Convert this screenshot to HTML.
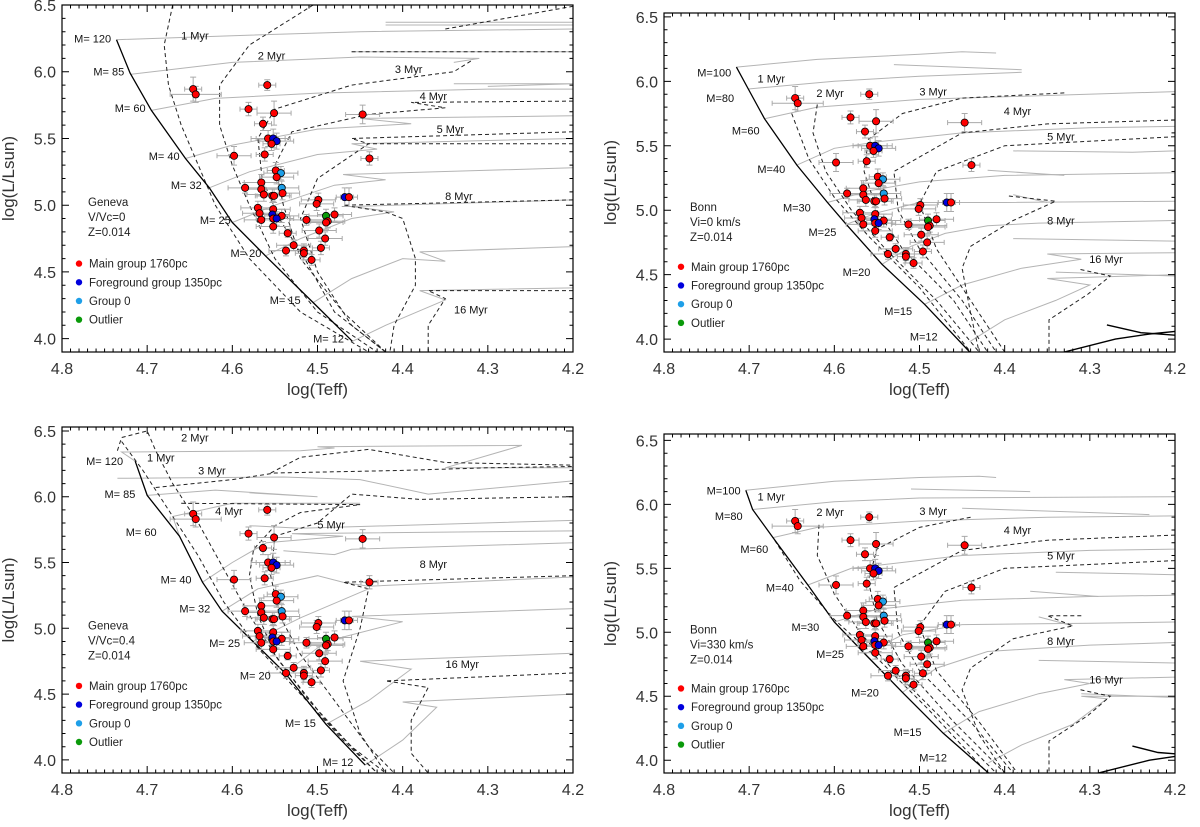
<!DOCTYPE html>
<html><head><meta charset="utf-8"><title>HR diagrams</title>
<style>
html,body{margin:0;padding:0;background:#fff;}
svg{display:block;font-family:"Liberation Sans",sans-serif;}
</style></head>
<body>
<svg id="fig" width="1200" height="827" viewBox="0 0 1200 827" xmlns="http://www.w3.org/2000/svg"></svg>
<script>
// ---- star data (same in all four panels) ----
const teff = [4.646,4.643,4.559,4.581,4.551,4.447,4.564,4.558,4.552,4.548,4.554,4.598,4.562,4.439,4.549,4.543,4.548,4.566,4.585,4.542,4.566,4.541,4.563,4.553,4.551,4.468,4.463,4.499,4.501,4.570,4.552,4.568,4.553,4.490,4.480,4.542,4.566,4.552,4.548,4.513,4.488,4.490,4.552,4.498,4.535,4.491,4.528,4.496,4.537,4.516,4.516,4.507];
const lum  = [5.87,5.83,5.90,5.72,5.69,5.68,5.61,5.50,5.50,5.48,5.46,5.37,5.38,5.35,5.26,5.24,5.21,5.17,5.13,5.13,5.12,5.09,5.08,5.07,5.07,5.06,5.06,5.04,5.01,4.98,4.97,4.94,4.93,4.92,4.93,4.92,4.89,4.90,4.90,4.89,4.88,4.87,4.84,4.81,4.79,4.75,4.70,4.68,4.66,4.66,4.64,4.59];
const group = ['m','m','m','m','m','m','m','m','f','f','m','m','m','m','m','g','m','m','m','g','m','m','m','m','m','f','m','m','m','m','m','m','f','o','m','m','m','m','f','m','m','m','m','m','m','m','m','m','m','m','m','m'];
const xerr = [0.01,0.03,0.01,0.01,0.02,0.02,0.01,0.02,0.02,0.02,0.01,0.02,0.01,0.01,0.01,0.02,0.02,0.02,0.02,0.02,0.02,0.02,0.02,0.02,0.02,0.01,0.01,0.02,0.02,0.02,0.02,0.02,0.02,0.02,0.02,0.02,0.02,0.02,0.02,0.02,0.02,0.02,0.02,0.02,0.01,0.02,0.02,0.01,0.02,0.02,0.01,0.01];
const yerr = [0.09,0.06,0.04,0.05,0.09,0.07,0.05,0.06,0.07,0.06,0.05,0.07,0.05,0.05,0.06,0.05,0.05,0.06,0.04,0.05,0.05,0.05,0.05,0.05,0.05,0.07,0.07,0.05,0.05,0.05,0.06,0.05,0.05,0.05,0.05,0.05,0.05,0.05,0.05,0.04,0.05,0.05,0.05,0.05,0.03,0.05,0.04,0.05,0.04,0.05,0.05,0.04];
const groupColors = {m:'#ff0000', f:'#0000dd', g:'#1e9fe8', o:'#0a9a0a'};
const legendLabels = ['Main group 1760pc','Foreground group 1350pc','Group 0','Outlier'];
const legendKeys = ['m','f','g','o'];
const xTicks = [4.8,4.7,4.6,4.5,4.4,4.3,4.2];
const yTicks = [4.0,4.5,5.0,5.5,6.0,6.5];

// ---- model curves ----
const panels = [
 {name:'geneva-norot', x0:62,x1:573,y0:5,y1:352, lmin:3.9,lmax:6.5, info:['Geneva','V/Vc=0','Z=0.014'],
  zams:[[4.736,6.24],[4.72,5.99],[4.695,5.71],[4.655,5.35],[4.627,5.13],[4.6,4.87],[4.561,4.62],[4.505,4.27],[4.459,3.98]],
  tracks:[
   [[4.736,6.24],[4.6,6.27],[4.45,6.3],[4.2,6.32]],[[4.42,6.37],[4.2,6.37],[4.2,6.35],[4.42,6.35]],
   [[4.72,5.98],[4.6,6.07],[4.45,6.11],[4.31,6.1],[4.34,6.07]],[[4.46,6.15],[4.2,6.15]],
   [[4.695,5.71],[4.62,5.8],[4.5,5.84],[4.3,5.87],[4.2,5.87]],[[4.34,5.91],[4.2,5.91],[4.3,5.89]],
   [[4.655,5.35],[4.6,5.45],[4.5,5.57],[4.39,5.61],[4.45,5.65],[4.2,5.67]],
   [[4.627,5.13],[4.58,5.25],[4.5,5.38],[4.43,5.42],[4.46,5.46],[4.2,5.5]],
   [[4.6,4.87],[4.55,5.0],[4.48,5.15],[4.42,5.19],[4.47,5.23],[4.2,5.28]],
   [[4.561,4.62],[4.52,4.75],[4.46,4.9],[4.41,4.95],[4.46,4.99],[4.2,5.04]],
   [[4.505,4.27],[4.46,4.45],[4.40,4.6],[4.35,4.58],[4.38,4.65],[4.2,4.69]],
   [[4.459,3.98],[4.42,4.1],[4.35,4.29],[4.38,4.36],[4.2,4.38]]],
  isos:[
   [[4.67,6.5],[4.68,6.2],[4.675,5.9],[4.66,5.6],[4.64,5.3],[4.62,5.0],[4.58,4.6],[4.52,4.2],[4.44,3.9]],
   [[4.505,6.5],[4.58,6.2],[4.615,5.9],[4.615,5.6],[4.60,5.3],[4.58,5.0],[4.55,4.6],[4.50,4.2],[4.43,3.9]],
   [[4.46,6.15],[4.2,6.15]],
   [[4.32,6.08],[4.34,6.0],[4.46,5.9],[4.55,5.72],[4.57,5.5],[4.565,5.2],[4.545,4.9],[4.515,4.6],[4.48,4.2],[4.42,3.9]],
   [[4.2,5.78],[4.39,5.77],[4.35,5.73],[4.44,5.68],[4.53,5.55],[4.55,5.3],[4.54,5.0],[4.52,4.6],[4.47,4.2],[4.42,3.9]],
   [[4.2,5.55],[4.46,5.5],[4.44,5.46],[4.5,5.2],[4.52,4.9],[4.50,4.5],[4.46,4.1],[4.42,3.9]],
   [[4.2,5.46],[4.44,5.46]],
   [[4.2,5.04],[4.47,5.0],[4.42,4.95],[4.40,4.9],[4.385,4.6],[4.385,4.4],[4.41,4.1],[4.415,3.9]],
   [[4.2,4.36],[4.37,4.36],[4.35,4.3],[4.37,4.1],[4.37,3.9]],
   [[4.35,6.32],[4.2,6.49]]],
  black:[],
  mlabels:[['M= 120',4.764,6.25],['M= 85',4.745,6.0],['M= 60',4.72,5.73],['M= 40',4.68,5.37],['M= 32',4.654,5.15],['M= 25',4.62,4.89],['M= 20',4.584,4.64],['M= 15',4.538,4.29],['M= 12',4.487,4.0]],
  alabels:[['1 Myr',4.644,6.27],['2 Myr',4.554,6.12],['3 Myr',4.393,6.02],['4 Myr',4.364,5.82],['5 Myr',4.344,5.57],['8 Myr',4.334,5.07],['16 Myr',4.32,4.22]]},
 {name:'bonn-norot', x0:664,x1:1175,y0:13,y1:352, lmin:3.9,lmax:6.53, info:['Bonn','Vi=0 km/s','Z=0.014'],
  zams:[[4.715,6.11],[4.701,5.94],[4.682,5.71],[4.644,5.35],[4.608,5.06],[4.586,4.89],[4.544,4.58],[4.494,4.27],[4.441,3.9]],
  tracks:[
   [[4.715,6.11],[4.62,6.17],[4.5,6.21],[4.45,6.23],[4.41,6.22]],[[4.53,6.13],[4.38,6.09]],
   [[4.701,5.94],[4.6,6.0],[4.5,6.04],[4.38,6.07]],
   [[4.682,5.71],[4.62,5.8],[4.5,5.86],[4.35,5.89],[4.2,5.92]],
   [[4.644,5.35],[4.6,5.48],[4.55,5.53],[4.45,5.6],[4.3,5.64],[4.2,5.65]],
   [[4.39,5.46],[4.25,5.45],[4.2,5.46]],
   [[4.608,5.06],[4.56,5.15],[4.5,5.22],[4.4,5.27],[4.2,5.29]],[[4.42,5.31],[4.33,5.27]],
   [[4.586,4.89],[4.55,4.98],[4.5,5.06],[4.40,5.06],[4.2,5.07]],[[4.39,5.12],[4.35,5.06]],
   [[4.544,4.58],[4.51,4.72],[4.47,4.82],[4.42,4.88],[4.36,4.9],[4.2,4.92]],[[4.39,4.78],[4.2,4.76]],
   [[4.494,4.27],[4.45,4.42],[4.38,4.55],[4.31,4.62],[4.35,4.66],[4.2,4.67]],[[4.34,4.52],[4.2,4.49]],
   [[4.441,3.98],[4.40,4.15],[4.34,4.3],[4.3,4.42],[4.35,4.47],[4.2,4.5]]],
  isos:[
   [[4.65,5.75],[4.63,5.4],[4.6,5.1],[4.56,4.8],[4.5,4.4],[4.44,3.9]],
   [[4.62,5.82],[4.625,5.6],[4.61,5.3],[4.58,5.0],[4.54,4.7],[4.48,4.3],[4.43,3.9]],
   [[4.33,5.91],[4.45,5.87],[4.52,5.75],[4.56,5.55],[4.565,5.3],[4.55,5.0],[4.52,4.7],[4.46,4.3],[4.42,3.9]],
   [[4.2,5.7],[4.35,5.67],[4.45,5.6],[4.53,5.3],[4.525,5.0],[4.50,4.7],[4.45,4.3],[4.41,3.9]],
   [[4.2,5.57],[4.4,5.5],[4.48,5.3],[4.50,5.05],[4.48,4.7],[4.44,4.3],[4.40,3.9]],
   [[4.395,5.11],[4.34,5.07],[4.39,4.92],[4.44,4.72],[4.45,4.55],[4.44,4.2],[4.43,3.9]],
   [[4.311,4.54],[4.276,4.49],[4.302,4.35],[4.348,4.15],[4.348,3.9]]],
  black:[[[4.33,3.9],[4.27,4.0],[4.23,4.04],[4.2,4.06]],[[4.2,4.03],[4.24,4.05],[4.28,4.11]]],
  mlabels:[['M=100',4.741,6.07],['M=80',4.734,5.87],['M=60',4.704,5.62],['M=40',4.674,5.32],['M=30',4.644,5.02],['M=25',4.614,4.83],['M=20',4.574,4.52],['M=15',4.525,4.22],['M=12',4.495,4.02]],
  alabels:[['1 Myr',4.674,6.02],['2 Myr',4.605,5.91],['3 Myr',4.484,5.92],['4 Myr',4.385,5.77],['5 Myr',4.334,5.57],['8 Myr',4.334,4.92],['16 Myr',4.281,4.62]]},
 {name:'geneva-rot', x0:62,x1:573,y0:427,y1:773, lmin:3.9,lmax:6.53, info:['Geneva','V/Vc=0.4','Z=0.014'],
  zams:[[4.714,6.27],[4.70,6.01],[4.662,5.70],[4.635,5.35],[4.612,5.13],[4.576,4.90],[4.538,4.66],[4.49,4.27],[4.444,3.96]],
  tracks:[
   [[4.714,6.27],[4.73,6.34],[4.52,6.35],[4.48,6.37],[4.5,6.38],[4.26,6.39],[4.35,6.22],[4.2,6.22]],
   [[4.735,6.14],[4.54,6.15],[4.45,6.13],[4.37,6.02],[4.2,6.12]],
   [[4.70,6.01],[4.62,6.05],[4.50,6.0],[4.58,6.03]],
   [[4.662,5.70],[4.67,5.85],[4.6,5.95],[4.45,5.95]],
   [[4.58,5.78],[4.52,5.76],[4.2,5.82]],
   [[4.635,5.35],[4.60,5.5],[4.56,5.65],[4.47,5.7],[4.53,5.72],[4.2,5.74]],
   [[4.54,5.59],[4.48,5.56],[4.46,5.6],[4.2,5.65]],
   [[4.612,5.13],[4.57,5.3],[4.5,5.4],[4.47,5.35],[4.44,5.32],[4.2,5.39]],
   [[4.576,4.90],[4.52,5.08],[4.44,5.3]],
   [[4.538,4.66],[4.49,4.9],[4.40,5.05],[4.46,5.09],[4.2,5.15]],
   [[4.49,4.27],[4.44,4.45],[4.39,4.69],[4.45,4.75],[4.2,4.81]],
   [[4.444,3.96],[4.40,4.15],[4.36,4.4],[4.4,4.44],[4.2,4.5]]],
  isos:[
   [[4.73,6.42],[4.705,6.2],[4.675,5.9],[4.64,5.55],[4.61,5.2],[4.57,4.85],[4.52,4.5],[4.47,4.15],[4.43,3.9]],
   [[4.735,6.35],[4.73,6.45],[4.70,6.5],[4.69,6.35],[4.67,6.1],[4.64,5.8],[4.61,5.45],[4.58,5.1],[4.545,4.75],[4.49,4.3],[4.43,3.9]],
   [[4.69,6.07],[4.6,6.13],[4.55,6.18],[4.4,6.2],[4.3,6.22],[4.2,6.23]],
   [[4.555,6.18],[4.52,6.3],[4.44,6.36],[4.35,6.26],[4.2,6.24]],
   [[4.66,5.95],[4.45,5.94],[4.52,5.88],[4.55,5.78],[4.575,5.6],[4.58,5.4],[4.57,5.1],[4.55,4.8],[4.51,4.45],[4.46,4.1],[4.42,3.9]],
   [[4.2,6.0],[4.38,5.98],[4.46,6.02],[4.50,5.8],[4.55,5.7],[4.555,5.4],[4.545,5.1],[4.52,4.8],[4.48,4.45],[4.44,4.1],[4.41,3.9]],
   [[4.2,5.40],[4.47,5.35],[4.44,5.30],[4.45,5.0],[4.47,4.6],[4.45,4.2],[4.42,3.9]],
   [[4.2,4.66],[4.42,4.60],[4.37,4.55],[4.39,4.3],[4.39,4.05],[4.37,3.9]]],
  black:[],
  mlabels:[['M= 120',4.75,6.27],['M= 85',4.732,6.02],['M= 60',4.707,5.73],['M= 40',4.666,5.37],['M= 32',4.644,5.15],['M= 25',4.609,4.89],['M= 20',4.573,4.64],['M= 15',4.52,4.28],['M= 12',4.476,3.985]],
  alabels:[['2 Myr',4.644,6.45],['1 Myr',4.684,6.30],['3 Myr',4.624,6.2],['4 Myr',4.604,5.89],['5 Myr',4.484,5.79],['8 Myr',4.364,5.49],['16 Myr',4.33,4.73]]},
 {name:'bonn-rot', x0:664,x1:1175,y0:434,y1:773, lmin:3.9,lmax:6.55, info:['Bonn','Vi=330 km/s','Z=0.014'],
  zams:[[4.704,6.11],[4.696,5.96],[4.672,5.74],[4.631,5.37],[4.6,5.08],[4.564,4.83],[4.52,4.53],[4.472,4.21],[4.419,3.9]],
  tracks:[
   [[4.704,6.11],[4.6,6.18],[4.5,6.21],[4.43,6.22],[4.41,6.21]],[[4.51,6.12],[4.37,6.1]],
   [[4.696,5.96],[4.6,6.02],[4.5,6.05],[4.2,6.06]],
   [[4.672,5.74],[4.62,5.82],[4.5,5.87],[4.35,5.9],[4.2,5.91]],[[4.45,5.97],[4.23,5.92]],
   [[4.631,5.37],[4.58,5.5],[4.45,5.6],[4.3,5.64],[4.2,5.65]],[[4.34,5.47],[4.2,5.45]],
   [[4.6,5.08],[4.55,5.18],[4.45,5.25],[4.3,5.28],[4.2,5.29]],[[4.37,5.32],[4.29,5.28]],
   [[4.564,4.83],[4.52,4.98],[4.45,5.06],[4.3,5.07],[4.2,5.08]],[[4.36,5.12],[4.32,5.05]],
   [[4.52,4.53],[4.48,4.72],[4.42,4.85],[4.3,4.9],[4.2,4.92]],[[4.36,4.78],[4.2,4.76]],
   [[4.472,4.21],[4.43,4.38],[4.36,4.52],[4.3,4.6],[4.33,4.63],[4.2,4.65]],[[4.31,4.52],[4.2,4.49]],
   [[4.419,3.98],[4.38,4.12],[4.32,4.28],[4.28,4.48],[4.31,4.5],[4.2,4.5]]],
  isos:[
   [[4.67,5.72],[4.64,5.4],[4.6,5.1],[4.55,4.8],[4.49,4.4],[4.42,3.9]],
   [[4.618,5.84],[4.62,5.6],[4.60,5.3],[4.57,5.0],[4.53,4.7],[4.47,4.3],[4.41,3.9]],
   [[4.44,5.9],[4.50,5.82],[4.55,5.65],[4.56,5.4],[4.55,5.1],[4.52,4.75],[4.46,4.3],[4.40,3.9]],
   [[4.2,5.76],[4.35,5.72],[4.45,5.64],[4.53,5.35],[4.525,5.0],[4.50,4.7],[4.44,4.3],[4.39,3.9]],
   [[4.2,5.56],[4.4,5.5],[4.47,5.32],[4.50,5.05],[4.48,4.7],[4.43,4.3],[4.385,3.9]],
   [[4.31,5.13],[4.35,5.13],[4.32,5.05],[4.39,4.95],[4.44,4.72],[4.45,4.55],[4.43,4.2],[4.40,3.9]],
   [[4.311,4.55],[4.276,4.5],[4.302,4.35],[4.348,4.15],[4.348,3.9]]],
  black:[[[4.29,3.9],[4.23,4.0],[4.2,4.03]],[[4.2,4.05],[4.22,4.06],[4.25,4.11]]],
  mlabels:[['M=100',4.73,6.11],['M=80',4.724,5.91],['M=60',4.694,5.65],['M=40',4.664,5.35],['M=30',4.634,5.04],['M=25',4.605,4.83],['M=20',4.564,4.53],['M=15',4.514,4.22],['M=12',4.484,4.02]],
  alabels:[['1 Myr',4.674,6.06],['2 Myr',4.605,5.94],['3 Myr',4.484,5.95],['4 Myr',4.385,5.80],['5 Myr',4.334,5.60],['8 Myr',4.334,4.93],['16 Myr',4.281,4.63]]}
];

const NS = 'http://www.w3.org/2000/svg';
const svg = document.getElementById('fig');
function mk(parent, tag, attrs, text){
  const e = document.createElementNS(NS, tag);
  for (const k in attrs) e.setAttribute(k, attrs[k]);
  if (text !== undefined) e.textContent = text;
  parent.appendChild(e);
  return e;
}

panels.forEach(function(p){
  const xs = t => p.x0 + (4.8 - t) / 0.6 * (p.x1 - p.x0);
  const ys = l => p.y1 - (l - p.lmin) / (p.lmax - p.lmin) * (p.y1 - p.y0);
  const g = mk(svg, 'g', {});
  
  
  const clipId = 'clip-' + p.name;
  const cp = mk(g, 'clipPath', {id: clipId});
  mk(cp, 'rect', {x:p.x0, y:p.y0, width:p.x1-p.x0, height:p.y1-p.y0});
  const plot = mk(g, 'g', {'clip-path':'url(#' + clipId + ')'});
  
  
  const pts = arr => arr.map(q => xs(q[0]).toFixed(1) + ',' + ys(q[1]).toFixed(1)).join(' ');

  p.tracks.forEach(function(tr){
    const el = mk(plot, 'polyline', {points: pts(tr), fill:'none', stroke:'#b4b4b4', 'stroke-width':1});
    
    
  });
  p.isos.forEach(function(tr){
    const el = mk(plot, 'polyline', {points: pts(tr), fill:'none', stroke:'#222', 'stroke-width':1, 'stroke-dasharray':'4,3'});
    
    
  });
  p.black.forEach(function(tr){
    const el = mk(plot, 'polyline', {points: pts(tr), fill:'none', stroke:'#000', 'stroke-width':1.4});
    
    
  });
  const z = mk(plot, 'polyline', {points: pts(p.zams), fill:'none', stroke:'#000', 'stroke-width':1.3});
  
  

  p.mlabels.forEach(function(m){
    const el = mk(g, 'text', {x:xs(m[1]), y:ys(m[2])+4, 'font-size':11, fill:'#111', 'text-anchor':'middle'}, m[0]);
    
    
  });
  p.alabels.forEach(function(m){
    const el = mk(g, 'text', {x:xs(m[1]), y:ys(m[2])+4, 'font-size':11, fill:'#111', 'text-anchor':'middle'}, m[0]);
    
    
  });

  // error bars
  teff.forEach(function(t, i){
    const cx = xs(t), cy = ys(lum[i]);
    const xa = xs(t + xerr[i]), xb = xs(t - xerr[i]);
    const ya = ys(lum[i] + yerr[i]), yb = ys(lum[i] - yerr[i]);
    const d = 'M'+xa+','+cy+'H'+xb+'M'+xa+','+(cy-2.5)+'V'+(cy+2.5)+'M'+xb+','+(cy-2.5)+'V'+(cy+2.5)+
              'M'+cx+','+ya+'V'+yb+'M'+(cx-3)+','+ya+'H'+(cx+3)+'M'+(cx-3)+','+yb+'H'+(cx+3);
    const el = mk(plot, 'path', {d:d, stroke:'#aaaaaa', 'stroke-width':1, fill:'none'});
    
    
  });
  teff.forEach(function(t, i){
    const el = mk(plot, 'circle', {cx:xs(t), cy:ys(lum[i]), r:3.6, fill:groupColors[group[i]], stroke:'#000', 'stroke-width':0.8});
    
    
  });

  // frame and ticks
  const fr = mk(g, 'rect', {x:p.x0, y:p.y0, width:p.x1-p.x0, height:p.y1-p.y0, fill:'none', stroke:'#000', 'stroke-width':1.2});
  
  
  let d = '';
  for (let k = 0; k <= 60; k++){
    const t = 4.8 - k*0.01, x = xs(t), len = (k % 10 === 0) ? 7 : 3.5;
    d += 'M'+x+','+p.y1+'v'+(-len)+'M'+x+','+p.y0+'v'+len;
  }
  for (let k = 0; ; k++){
    const l = 3.9 + k*0.1; if (l > p.lmax + 1e-6) break;
    const y = ys(l), len = (Math.abs((l*10) % 5) < 1e-6 || Math.abs((l*10) % 5 - 5) < 1e-6) ? 7 : 3.5;
    d += 'M'+p.x0+','+y+'h'+len+'M'+p.x1+','+y+'h'+(-len);
  }
  const tk = mk(g, 'path', {d:d, stroke:'#000', 'stroke-width':1, fill:'none'});
  
  

  xTicks.forEach(function(t){
    const el = mk(g, 'text', {x:xs(t), y:p.y1+22, 'font-size':16, fill:'#333', 'text-anchor':'middle'}, t.toFixed(1));
    
    
  });
  yTicks.forEach(function(l){
    const el = mk(g, 'text', {x:p.x0-6, y:ys(l)+6, 'font-size':16, fill:'#333', 'text-anchor':'end'}, l.toFixed(1));
    
    
  });
  const xt = mk(g, 'text', {x:(p.x0+p.x1)/2, y:p.y1+43, 'font-size':17, fill:'#333', 'text-anchor':'middle'}, 'log(Teff)');
  
  
  const yc = (p.y0+p.y1)/2, yx = p.x0-48;
  const yt = mk(g, 'text', {x:yx, y:yc, 'font-size':17, fill:'#333', 'text-anchor':'middle', transform:'rotate(-90 '+yx+' '+yc+')'}, 'log(L/Lsun)');
  
  

  // model info text
  p.info.forEach(function(s, j){
    const el = mk(g, 'text', {x:p.x0+26, y:ys(5.0) + (j-1)*15 + 16, 'font-size':11.5, fill:'#222'}, s);
    
    
  });
  // legend
  const lg = mk(g, 'g', {});
  
  
  legendKeys.forEach(function(k, j){
    const yy = ys(4.6) + 5 + j*18.7;
    const c = mk(lg, 'circle', {cx:p.x0+17, cy:yy, r:3.2, fill:groupColors[k]});
    
    
    const t = mk(lg, 'text', {x:p.x0+27, y:yy+4, 'font-size':11.5, fill:'#222'}, legendLabels[j]);
    
    
  });
});
</script>
</body></html>
